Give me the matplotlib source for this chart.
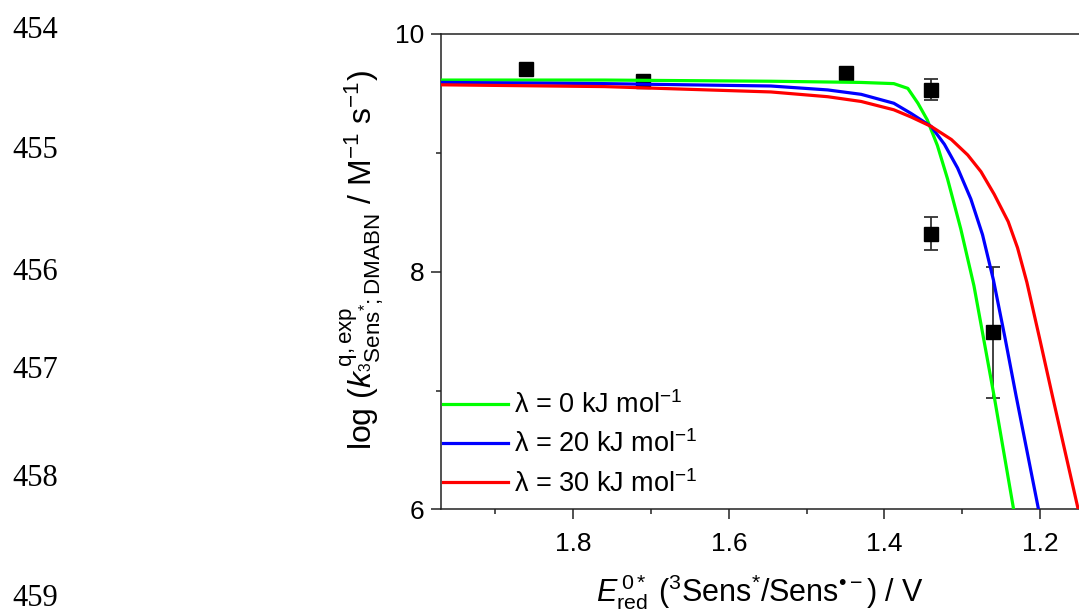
import matplotlib
matplotlib.use("Agg")
import matplotlib.pyplot as plt
from matplotlib.ticker import MultipleLocator

plt.rcParams['font.family'] = ['Liberation Sans', 'DejaVu Sans']
plt.rcParams['mathtext.fontset'] = 'custom'
plt.rcParams['mathtext.rm'] = 'Liberation Sans'
plt.rcParams['mathtext.it'] = 'Liberation Sans:italic'
plt.rcParams['mathtext.bf'] = 'Liberation Sans:bold'

# measured quenching constants
e_red = [1.861, 1.710, 1.450, 1.340, 1.340, 1.260]
log_kq = [9.70, 9.60, 9.67, 9.53, 8.32, 7.49]
log_kq_err = [0.03, 0.03, 0.03, 0.09, 0.14, 0.55]

# fitted curves for three reorganisation energies
green_x = [1.970, 1.760, 1.546, 1.430, 1.388, 1.370, 1.357, 1.345, 1.332, 1.319, 1.302, 1.285, 1.259, 1.234]
green_y = [9.61, 9.61, 9.60, 9.59, 9.58, 9.54, 9.415, 9.275, 9.06, 8.78, 8.36, 7.88, 6.95, 6.0]

blue_x = [1.970, 1.760, 1.546, 1.473, 1.430, 1.388, 1.366, 1.340, 1.323, 1.306, 1.289, 1.274, 1.260, 1.245, 1.231, 1.202]
blue_y = [9.59, 9.58, 9.56, 9.527, 9.49, 9.415, 9.33, 9.22, 9.07, 8.87, 8.61, 8.31, 7.93, 7.44, 6.96, 6.0]

red_x = [1.970, 1.760, 1.546, 1.473, 1.430, 1.388, 1.366, 1.340, 1.314, 1.293, 1.276, 1.259, 1.241, 1.229, 1.217, 1.200, 1.184, 1.151]
red_y = [9.57, 9.555, 9.51, 9.47, 9.43, 9.36, 9.30, 9.22, 9.11, 8.98, 8.84, 8.65, 8.42, 8.20, 7.91, 7.42, 6.95, 6.0]

curve_labels = ['λ = 0 kJ mol$^{-1}$', 'λ = 20 kJ mol$^{-1}$', 'λ = 30 kJ mol$^{-1}$']
line_numbers = ['454', '455', '456', '457', '458', '459']
line_number_y = [30, 150, 272, 371, 478, 598]

fig = plt.figure(figsize=(10.79, 6.12), dpi=100)
ax = fig.add_axes([0.4087, 0.1675, 0.5913, 0.7775])

ax.errorbar(e_red, log_kq, yerr=log_kq_err, fmt='s', color='black', markersize=10,
            ecolor='#333333', elinewidth=1.3, capsize=5, capthick=1.3, zorder=2)

ax.plot(green_x, green_y, color='#00ff00', lw=2.3, label=curve_labels[0], zorder=3)
ax.plot(blue_x, blue_y, color='#0000ff', lw=2.3, label=curve_labels[1], zorder=3)
ax.plot(red_x, red_y, color='#ff0000', lw=2.3, label=curve_labels[2], zorder=3)

ax.set_xlim(1.97, 1.15)
ax.set_ylim(6, 10)
ax.xaxis.set_major_locator(MultipleLocator(0.2))
ax.xaxis.set_minor_locator(MultipleLocator(0.1))
ax.yaxis.set_major_locator(MultipleLocator(2))
ax.yaxis.set_minor_locator(MultipleLocator(1))
ax.tick_params(which='both', direction='out', width=1.1, color='#222222', labelsize=19, pad=5)
ax.tick_params(which='major', length=7)
ax.tick_params(which='minor', length=3.5)
ax.tick_params(axis='x', pad=9)
ax.spines['right'].set_visible(False)
for s in ['left', 'top', 'bottom']:
    ax.spines[s].set_linewidth(1.1)
    ax.spines[s].set_color('#222222')

ax.set_xlabel(r'$E^{\,0*}_{\mathrm{red}}$ ($^3$Sens$^{*}$/Sens$^{•−}$) / V', fontsize=22, labelpad=12)
fig.text(0.336, 0.575,
         r'log ($k^{\,\mathrm{q,exp}}_{^3\mathrm{Sens}^{*}{;}\mathrm{DMABN}}$ / M$^{-1}$ s$^{-1}$)',
         rotation=90, fontsize=23, ha='center', va='center')

ax.legend(loc='lower left', bbox_to_anchor=(0.003, 0.025), frameon=False, fontsize=19.5,
          handlelength=2.4, handletextpad=0.22, labelspacing=0.42, borderpad=0, borderaxespad=0)

for num, ypos in zip(line_numbers, line_number_y):
    fig.text(12 / 1079, 1 - ypos / 612, num, fontsize=22, family='Liberation Serif',
             ha='left', va='center')

fig.savefig('out.png', dpi=100)
